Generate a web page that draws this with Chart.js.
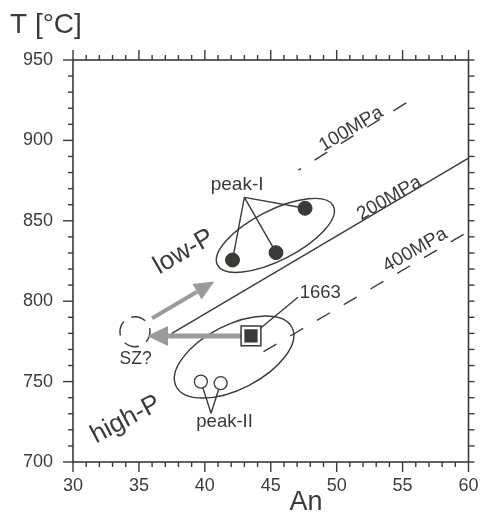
<!DOCTYPE html>
<html>
<head>
<meta charset="utf-8">
<script src="https://cdn.jsdelivr.net/npm/chart.js@4"></script>
<style>
  html, body { margin: 0; padding: 0; background: #fff; }
  #wrap { width: 484px; height: 513px; position: relative; }
</style>
</head>
<body>
<div id="wrap"><canvas id="plot"></canvas></div>
<script>
// axis ranges and labelled ticks
const xRange = [30, 60];
const yRange = [700, 950];
const xTickLabels = [30, 35, 40, 45, 50, 55, 60];
const yTickLabels = [700, 750, 800, 850, 900, 950];

// isobars: An (x) and T (y) at both ends
const iso100An = [47.1, 55.4];
const iso100T = [881.5, 924.0];
const iso200An = [37.5, 60];
const iso200T = [780, 889];
const iso400An = [44.45, 59.85];
const iso400T = [768.6, 842.6];

// samples
const peakIAn = [42.1, 45.4, 47.6];
const peakIT = [825.6, 830.2, 857.8];
const peakIIAn = [39.7, 41.2];
const peakIIT = [750, 749];
const s1663An = [43.5];
const s1663T = [778.4];

// the "SZ?" field and the two path arrows
const szCentre = [34.7, 781];
const arrowUpFrom = [36.0, 789.4];
const arrowUpTo = [40.72, 812.2];
const arrowLeftFrom = [43.5, 778.4];
const arrowLeftTo = [35.62, 778.4];

const INK = '#3a3a37';
const GREY = '#9b9b9f';
const FONT = '"Liberation Sans", Arial, Helvetica, sans-serif';

const pts = (xs, ys) => xs.map((x, i) => ({ x, y: ys[i] }));

// outlines around the low-P and high-P groups (centre in data, radii in px)
const ellipses = [
  { an: 45.35, t: 840.9, rx: 65, ry: 25, rot: -27 },
  { an: 42.22, t: 765.3, rx: 65, ry: 32, rot: -27 }
];

const notes = [
  { text: 'low-P', an: 38.4, t: 830.6, rot: -30, size: 26 },
  { text: 'high-P', an: 34.0, t: 726.4, rot: -28, size: 26 },
  { text: '100MPa', an: 51.1, t: 907.1, rot: -31, size: 19 },
  { text: '200MPa', an: 54.0, t: 864.0, rot: -30, size: 19 },
  { text: '400MPa', an: 55.95, t: 831.8, rot: -30, size: 19 },
  { text: 'peak-I', an: 42.45, t: 872.3, size: 19 },
  { text: 'peak-II', an: 41.5, t: 725.2, size: 18.5 },
  { text: 'SZ?', an: 34.75, t: 764.1, size: 17.5 },
  { text: '1663', an: 47.2, t: 805.1, size: 18.5, align: 'left' }
];

const peakIApex = [43.0, 864.6];
const peakIIApex = [40.47, 730.3];
const label1663End = [47.07, 802.5];

function px(chart, an, t) {
  return [chart.scales.x.getPixelForValue(an), chart.scales.y.getPixelForValue(t)];
}

function line(ctx, a, b) {
  ctx.beginPath();
  ctx.moveTo(a[0], a[1]);
  ctx.lineTo(b[0], b[1]);
  ctx.stroke();
}

function arrow(ctx, a, b, w, headLen, headHalf) {
  const ang = Math.atan2(b[1] - a[1], b[0] - a[0]);
  const bx = b[0] - headLen * Math.cos(ang), by = b[1] - headLen * Math.sin(ang);
  ctx.strokeStyle = GREY;
  ctx.fillStyle = GREY;
  ctx.lineWidth = w;
  ctx.lineCap = 'butt';
  line(ctx, a, [bx, by]);
  ctx.beginPath();
  ctx.moveTo(b[0], b[1]);
  ctx.lineTo(bx + headHalf * Math.sin(ang), by - headHalf * Math.cos(ang));
  ctx.lineTo(bx - headHalf * Math.sin(ang), by + headHalf * Math.cos(ang));
  ctx.closePath();
  ctx.fill();
}

const sketch = {
  id: 'sketch',
  beforeDatasetsDraw(chart) {
    const ctx = chart.ctx;
    ctx.save();
    ctx.strokeStyle = INK;
    ctx.lineWidth = 1.4;
    ellipses.forEach(e => {
      const c = px(chart, e.an, e.t);
      ctx.beginPath();
      ctx.ellipse(c[0], c[1], e.rx, e.ry, e.rot * Math.PI / 180, 0, Math.PI * 2);
      ctx.stroke();
    });
    // dashed SZ? circle
    const sz = px(chart, szCentre[0], szCentre[1]);
    ctx.setLineDash([15, 8.5]);
    ctx.lineDashOffset = 4;
    ctx.beginPath();
    ctx.arc(sz[0], sz[1], 15, 0, Math.PI * 2);
    ctx.stroke();
    ctx.setLineDash([]);
    // leader lines
    const ap = px(chart, peakIApex[0], peakIApex[1]);
    peakIAn.forEach((a, i) => line(ctx, ap, px(chart, a, peakIT[i])));
    const ap2 = px(chart, peakIIApex[0], peakIIApex[1]);
    peakIIAn.forEach((a, i) => line(ctx, ap2, px(chart, a, peakIIT[i])));
    line(ctx, px(chart, s1663An[0], s1663T[0]), px(chart, label1663End[0], label1663End[1]));
    // path arrows
    arrow(ctx, px(chart, arrowUpFrom[0], arrowUpFrom[1]), px(chart, arrowUpTo[0], arrowUpTo[1]), 4, 20, 9);
    arrow(ctx, px(chart, arrowLeftFrom[0], arrowLeftFrom[1]), px(chart, arrowLeftTo[0], arrowLeftTo[1]), 5, 21, 10);
    ctx.restore();
  },
  afterDatasetsDraw(chart) {
    const ctx = chart.ctx;
    ctx.save();
    ctx.fillStyle = INK;
    notes.forEach(n => {
      const p = px(chart, n.an, n.t);
      ctx.save();
      ctx.translate(p[0], p[1]);
      ctx.rotate((n.rot || 0) * Math.PI / 180);
      ctx.font = n.size + 'px ' + FONT;
      ctx.textAlign = n.align || 'center';
      ctx.textBaseline = 'middle';
      ctx.fillText(n.text, 0, 0);
      ctx.restore();
    });
    ctx.restore();
  },
  afterDraw(chart) {
    const ctx = chart.ctx;
    const { left, right, top, bottom } = chart.chartArea;
    ctx.save();
    ctx.strokeStyle = INK;
    ctx.lineWidth = 1.6;
    ctx.strokeRect(left, top, right - left, bottom - top);
    ctx.lineWidth = 1.4;
    chart.scales.x.ticks.forEach(tk => {
      const x = chart.scales.x.getPixelForValue(tk.value);
      const len = xTickLabels.includes(tk.value) ? 10 : 5;
      line(ctx, [x, bottom], [x, bottom + len]);
      line(ctx, [x, top], [x, top - len]);
    });
    chart.scales.y.ticks.forEach(tk => {
      const y = chart.scales.y.getPixelForValue(tk.value);
      const len = yTickLabels.includes(tk.value) ? 10 : 5;
      line(ctx, [left - len, y], [left, y]);
      line(ctx, [right, y], [right + 6, y]);
    });
    // axis titles
    ctx.fillStyle = INK;
    ctx.font = '28px ' + FONT;
    ctx.textAlign = 'left';
    ctx.textBaseline = 'alphabetic';
    ctx.fillText('T [°C]', left - 63, 33);
    ctx.font = '27px ' + FONT;
    ctx.textAlign = 'center';
    ctx.fillText('An', left + 233, 510);
    ctx.restore();
  }
};

Chart.defaults.font.family = FONT;
Chart.defaults.color = '#3c3c3c';

const lineSet = (xs, ys, dash, offset) => ({
  type: 'line',
  data: pts(xs, ys),
  borderColor: INK,
  borderWidth: 1.4,
  borderDash: dash,
  borderDashOffset: offset || 0,
  pointRadius: 0,
  fill: false,
  order: 5
});

new Chart(document.getElementById('plot'), {
  type: 'scatter',
  data: {
    datasets: [
      // sample 1663: dark core inside a white-rimmed square
      { data: pts(s1663An, s1663T), pointStyle: 'rect', pointRadius: 9, backgroundColor: INK, borderColor: INK, borderWidth: 0.5, order: 0 },
      { data: pts(s1663An, s1663T), pointStyle: 'rect', pointRadius: 14, backgroundColor: '#fff', borderColor: INK, borderWidth: 1.5, order: 1 },
      { data: pts(peakIAn, peakIT), pointRadius: 7, backgroundColor: INK, borderColor: INK, borderWidth: 1, order: 2 },
      { data: pts(peakIIAn, peakIIT), pointRadius: 6.5, backgroundColor: '#fff', borderColor: INK, borderWidth: 1.3, order: 2 },
      lineSet(iso100An, iso100T, [15, 16], 12),
      lineSet(iso200An, iso200T, []),
      lineSet(iso400An, iso400T, [15, 16], 0)
    ]
  },
  options: {
    responsive: true,
    maintainAspectRatio: false,
    animation: false,
    events: [],
    layout: { padding: { top: 60, right: 9, left: 0, bottom: 0 } },
    plugins: { legend: { display: false }, tooltip: { enabled: false } },
    scales: {
      x: {
        type: 'linear', min: xRange[0], max: xRange[1],
        afterFit: s => { s.height = 51; },
        border: { display: false },
        grid: { display: true, drawOnChartArea: false, drawTicks: true, tickLength: 10, color: 'rgba(0,0,0,0)' },
        ticks: {
          stepSize: 1, autoSkip: false, maxRotation: 0, padding: 3,
          font: { size: 18 }, color: '#3c3c3c',
          callback: v => xTickLabels.includes(v) ? String(v) : ''
        }
      },
      y: {
        type: 'linear', min: yRange[0], max: yRange[1],
        afterFit: s => { s.width = 73; },
        border: { display: false },
        grid: { display: true, drawOnChartArea: false, drawTicks: true, tickLength: 10, color: 'rgba(0,0,0,0)' },
        ticks: {
          stepSize: 10, autoSkip: false, padding: 10,
          font: { size: 18 }, color: '#3c3c3c',
          callback: v => yTickLabels.includes(v) ? String(v) : ''
        }
      }
    }
  },
  plugins: [sketch]
});
</script>
</body>
</html>
